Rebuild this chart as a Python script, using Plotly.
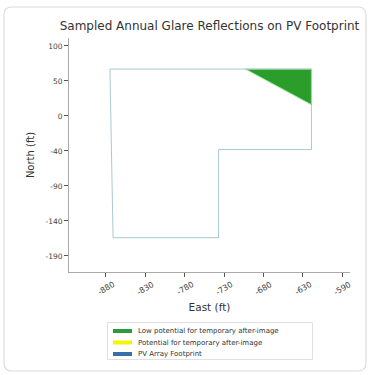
import plotly.graph_objects as go

# Data
footprint_east = [-875, -619, -619, -737, -737, -871, -875]
footprint_north = [67, 67, -48, -48, -174, -174, 67]
glare_low_east = [-703, -619, -619, -703]
glare_low_north = [67, 67, 16, 67]
x_tick_labels = ["-880", "-830", "-780", "-730", "-680", "-630", "-590"]
y_tick_labels = ["100", "50", "0", "-40", "-90", "-140", "-190"]
x_tick_vals = [-880, -830, -780, -730, -680, -630, -580]
y_tick_vals = [100, 50, 0, -50, -100, -150, -200]
legend_names = ["Low potential for temporary after-image",
                "Potential for temporary after-image",
                "PV Array Footprint"]
legend_colors = ["#2a9d3a", "#f5f500", "#3a6ea8"]

W, H = 370, 375
L, R, T, B = 69, 20, 38, 103
pw, ph = W - L - R, H - T - B


def px2x(px):
    return (px - L) / pw


def px2y(py):
    return (H - B - py) / ph


fig = go.Figure()

fig.add_trace(go.Scatter(
    x=glare_low_east, y=glare_low_north, mode="lines", fill="toself",
    fillcolor="#2a9d2a", line=dict(color="#a6eca6", width=1),
    name=legend_names[0], hoverinfo="skip", showlegend=False))
fig.add_trace(go.Scatter(
    x=footprint_east, y=footprint_north, mode="lines",
    line=dict(color="rgba(160,195,205,0.9)", width=1),
    name=legend_names[2], showlegend=False, hoverinfo="skip"))

# card border with rounded corners
x0, x1 = px2x(4), px2x(366)
y0, y1 = px2y(371), px2y(7)
rx, ry = 8 / pw, 8 / ph
path = (f"M {x0+rx},{y1} L {x1-rx},{y1} Q {x1},{y1} {x1},{y1-ry} "
        f"L {x1},{y0+ry} Q {x1},{y0} {x1-rx},{y0} L {x0+rx},{y0} "
        f"Q {x0},{y0} {x0},{y0+ry} L {x0},{y1-ry} Q {x0},{y1} {x0+rx},{y1} Z")
fig.add_shape(type="path", path=path, xref="paper", yref="paper",
              line=dict(color="#dcdcdc", width=1.2), layer="below")

# rotated x tick labels centred under ticks (matplotlib style)
for v, t in zip(x_tick_vals, x_tick_labels):
    fig.add_annotation(text=t, x=v, xref="x", y=px2y(288), yref="paper",
                       textangle=-30, showarrow=False, xanchor="center",
                       yanchor="middle", font=dict(size=8, color="#444444"))

# custom legend (matplotlib style, compact)
fig.add_shape(type="rect", xref="paper", yref="paper",
              x0=px2x(107.5), x1=px2x(312.5), y0=px2y(359.5), y1=px2y(322.5),
              line=dict(color="#e0e0e0", width=1), fillcolor="white")
row_y = [331, 342.5, 354]
for name, col, ry_ in zip(legend_names, legend_colors, row_y):
    fig.add_shape(type="rect", xref="paper", yref="paper",
                  x0=px2x(113), x1=px2x(132), y0=px2y(ry_ + 2), y1=px2y(ry_ - 2),
                  line=dict(width=0), fillcolor=col)
    fig.add_annotation(text=name, xref="paper", yref="paper",
                       x=px2x(136), y=px2y(ry_), xanchor="left", yanchor="middle",
                       showarrow=False, font=dict(size=7, color="#333333"))

font = "DejaVu Sans"
fig.update_layout(
    width=W, height=H,
    margin=dict(l=L, r=R, t=T, b=B),
    paper_bgcolor="white", plot_bgcolor="white",
    font=dict(family=font, color="#333333", size=8),
    title=dict(text="Sampled Annual Glare Reflections on PV Footprint",
               x=0.5, xref="paper", xanchor="center",
               y=1 - 26 / H, yanchor="middle",
               font=dict(size=12, color="#333333")),
    showlegend=False,
)
fig.update_xaxes(
    range=[-927, -570], tickvals=x_tick_vals, showticklabels=False,
    ticks="outside", ticklen=4, tickcolor="#555555",
    showline=True, linecolor="#aaaaaa", linewidth=1, showgrid=False,
    zeroline=False, automargin=False,
    title=dict(text="East (ft)", font=dict(size=10.5), standoff=27))
fig.update_yaxes(
    range=[-223, 111.4], tickvals=y_tick_vals, ticktext=y_tick_labels,
    ticks="outside", ticklen=4, tickcolor="#555555",
    showline=True, linecolor="#aaaaaa", linewidth=1, showgrid=False,
    zeroline=False, tickfont=dict(size=7.5, color="#444444"),
    automargin=False,
    title=dict(text="North (ft)", font=dict(size=10), standoff=8))

fig.write_html("out.html")
